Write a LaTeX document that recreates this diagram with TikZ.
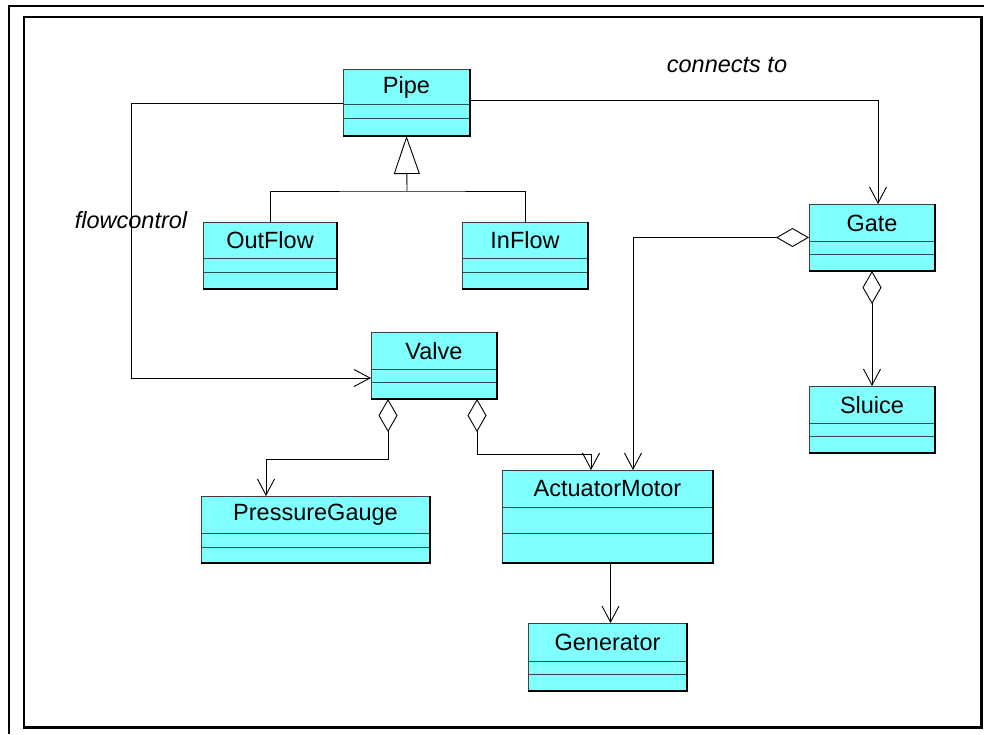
\documentclass[tikz,border=0pt]{standalone}
\usepackage{fontspec}
\setmainfont{Liberation Sans}
\usetikzlibrary{arrows.meta,calc}
\definecolor{umlcyan}{HTML}{80FFFF}
\definecolor{compcol}{HTML}{2F4F4F}
\tikzset{
  classbox/.style={rectangle, fill=umlcyan, draw=black!75, line width=0.8pt, inner sep=0pt, outer sep=0pt},
  classname/.style={inner sep=0pt, font=\fontsize{23.5}{27}\selectfont},
  compline/.style={draw=compcol, line width=1pt},
  edgeline/.style={line width=0.9pt, draw=black},
  barb/.tip={Straight Barb[length=16pt,width=17pt,line width=0.9pt]},
  diam/.tip={Diamond[fill=white,length=33pt,width=19pt,line width=0.9pt]},
  gentri/.tip={Triangle[fill=white,length=38pt,width=26pt,line width=0.9pt]},
  assoc/.style={edgeline, -barb},
  aggr/.style={edgeline, diam-barb},
  frame/.style={line width=2.6pt, draw=black},
  lbl/.style={inner sep=0pt, font=\fontsize{23.5}{27}\selectfont\itshape}
}
\newcommand\umlclass[8]{%
  \node[classbox, minimum width=#4pt, minimum height=#5pt, anchor=north west] (#1) at (#2,#3) {};
  \node[classname] (#1-name) at (#2+#4/2,#3+#7/2+0.5) {#6};
  \draw[compline] (#2,#3+#7) -- (#2+#4,#3+#7);
  \draw[compline] (#2,#3+#8) -- (#2+#4,#3+#8);
  \draw[line width=1.2pt] (#1.north east) -- (#1.south east) -- (#1.south west);
}
\begin{document}
\begin{tikzpicture}[x=1pt,y=-1pt]
\useasboundingbox (0,0) rectangle (984,734);
% frames
\draw[frame] (984,6) -- (9,6) -- (9,734);
\draw[frame] (24,17) rectangle (981.5,727.5);
% classes
\umlclass{pipe}{343}{69}{127}{67}{Pipe}{35}{49}
\umlclass{outflow}{203}{222}{134}{67}{OutFlow}{36}{50}
\umlclass{inflow}{462}{222}{126}{67}{InFlow}{36}{50}
\umlclass{gate}{809}{204}{126}{67}{Gate}{37}{50}
\umlclass{sluice}{809}{386}{126}{67}{Sluice}{37}{50}
\umlclass{valve}{371}{332}{126}{67}{Valve}{37}{50}
\umlclass{pressure}{201}{496}{229}{67}{PressureGauge}{37}{51}
\umlclass{actuator}{502}{470}{211}{93}{ActuatorMotor}{37}{63}
\umlclass{generator}{528}{623}{159}{68}{Generator}{38}{51}
% generalization
\coordinate (gj) at (407,191);
\draw[edgeline] (outflow.north) |- (gj) -| (inflow.north);
\draw[edgeline, -gentri] (gj) -- (pipe.south);
% connects to
\draw[assoc] ([yshift=-31pt]pipe.north east) -| ([xshift=6pt]gate.north);
\node[lbl] (lconn) at (727,65) {connects to};
% flowcontrol
\coordinate (fc) at (131,103);
\draw[assoc] ([yshift=-34pt]pipe.north west) -- (fc) |- ([yshift=-12.5pt]valve.west);
\node[lbl] (lflow) at (131,220) {flowcontrol};
% gate aggregations
\draw[aggr] (gate.west) -| ([xshift=25.5pt]actuator.north);
\draw[aggr] (gate.south) -- (sluice.north);
% valve aggregations
\coordinate (vl) at (388,459);
\draw[aggr] ([xshift=-46pt]valve.south) -- (vl) -| ([xshift=-49.5pt]pressure.north);
\coordinate (vr) at (477,454);
\draw[aggr] ([xshift=43pt]valve.south) -- (vr) -| ([xshift=-16.5pt]actuator.north);
% actuator -> generator
\draw[assoc] ([xshift=3pt]actuator.south) -- ([xshift=3pt]generator.north);
\end{tikzpicture}
\end{document}
